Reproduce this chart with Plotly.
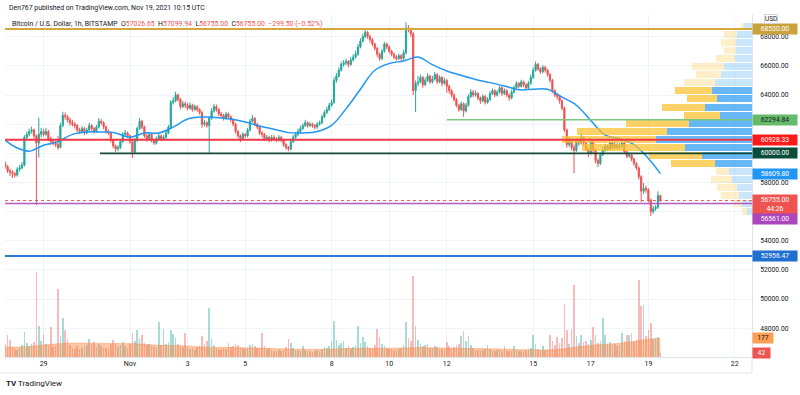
import pandas as pd
import plotly.graph_objects as go

# ---------------- price data: 2h bars, 2021-10-27 16:00 UTC -> 2021-11-19 10:00 UTC
first_open = 59300
close = [
    59100, 58800, 58700, 58600,
    58500, 58900, 59000, 59200, 61100, 61300, 61500, 61600, 61200, 60700, 61300, 61500,
    61300, 61500, 61000, 60800, 60700, 60600, 60400, 61900, 62600, 62500, 62300, 62100,
    62000, 61900, 61600, 61500, 61700, 61400, 61600, 61900, 61700, 61500, 61800, 62200,
    62100, 61800, 61500, 61400, 60900, 60500, 60300, 60400, 60800, 61300, 61400, 61200,
    60800, 60100, 60900, 61700, 62200, 61800, 61200, 61000, 61300, 60900, 60700, 61000,
    61200, 61000, 61100, 61400, 61800, 63500, 63600, 64000, 63700, 63200, 63400, 63300,
    63100, 63300, 63000, 63200, 63000, 62800, 62000, 62100, 61900, 62400, 62900, 63200,
    63000, 62700, 62600, 62400, 62700, 62500, 62300, 62000, 61500, 61200, 61000, 61300,
    61200, 61600, 62200, 62400, 62000, 61800, 61400, 61300, 61000, 61100, 60900, 61100,
    61000, 60900, 61100, 60900, 60600, 60400, 60300, 60800, 61100, 61300, 61500, 61700,
    61900, 62100, 61900, 62000, 61900, 61800, 62000, 62100, 62500, 62800, 63000, 63300,
    63500, 65000, 65300, 65700, 66100, 66200, 66300, 66100, 66400, 66600, 66800, 67300,
    67700, 68000, 68300, 68000, 67800, 67500, 67200, 66800, 66500, 67000, 67500, 67300,
    67000, 66800, 66600, 66500, 66700, 66500, 66900, 68600, 68500, 68200, 64300, 64800,
    64900, 65200, 64700, 65000, 65300, 64900, 65100, 65400, 64900, 65200, 64800, 65000,
    64600, 64300, 64000, 63700, 63300, 63000, 63400, 62900, 63300, 63900, 64200, 64000,
    64100, 63800, 63600, 63900, 63500, 63700, 64100, 64300, 64000, 64200, 64500, 64100,
    64300, 64000, 63800, 64200, 64500, 64800, 64600, 64900, 64700, 64500, 64800, 65200,
    65700, 66100, 65800, 65600, 65900, 65700, 65400, 65000, 64300, 64000, 63900, 63600,
    63100, 61600, 60600, 60900, 60400, 60200, 60900, 60700, 61100, 60700, 60300, 60000,
    60800, 60200, 59500, 59300, 59900, 60200, 60500, 60300, 60700, 60400, 60600, 60400,
    60500, 60700, 60100, 59800, 59900, 59600, 59300, 59000, 58400, 57400, 57600, 57500,
    56800, 56000, 56200, 56300, 57100, 56755,
]
high = [
    59450, 59200, 58950, 58850,
    58750, 59050, 59200, 59400, 61250, 61500, 61700, 61830, 61700, 61300, 62450, 61750,
    61700, 61750, 61600, 61150, 60950, 60850, 61200, 62100, 62850, 62800, 62650, 62450,
    62300, 62150, 62000, 61750, 61850, 61800, 61750, 62100, 62000, 61800, 61950, 62420,
    62350, 62200, 61900, 61650, 61450, 61000, 60600, 60550, 60950, 61450, 61600, 61500,
    61300, 60900, 61050, 61850, 62420, 62300, 61900, 61350, 61450, 61400, 61000, 61150,
    61400, 61300, 61250, 61550, 61950, 63650, 63850, 64230, 64100, 63800, 63600, 63550,
    63450, 63500, 63400, 63350, 63300, 63100, 62900, 62300, 62200, 62550, 63100, 63400,
    63350, 63100, 62850, 62700, 62850, 62800, 62600, 62400, 62100, 61600, 61300, 61450,
    61400, 61750, 62350, 62630, 62500, 62100, 61900, 61550, 61400, 61250, 61200, 61250,
    61250, 61100, 61250, 61200, 61000, 60700, 60500, 60950, 61250, 61450, 61700, 61900,
    62050, 62300, 62200, 62150, 62100, 62000, 62150, 62250, 62650, 62950, 63200, 63450,
    63700, 65200, 65500, 65900, 66300, 66400, 66500, 66400, 66600, 66800, 67050, 67500,
    67900, 68200, 68500, 68400, 68150, 67900, 67600, 67300, 66900, 67150, 67650, 67600,
    67400, 67100, 66900, 66750, 66850, 66800, 67100, 68990, 68800, 68600, 68300, 65000,
    65300, 65400, 65300, 65200, 65500, 65400, 65300, 65580, 65500, 65350, 65300, 65200,
    65100, 64700, 64400, 64100, 63800, 63400, 63550, 63500, 63450, 64050, 64400, 64350,
    64300, 64200, 63900, 64050, 64000, 63850, 64250, 64450, 64400, 64350, 64650, 64600,
    64450, 64400, 64100, 64350, 64650, 64950, 64900, 65050, 65000, 64800, 64950, 65400,
    65900, 66300, 66200, 65900, 66050, 66000, 65800, 65500, 65100, 64400, 64150, 64000,
    63700, 63200, 61700, 61100, 61000, 60600, 61050, 61000, 61400, 61200, 60800, 60400,
    61050, 60900, 60300, 59650, 60050, 60430, 60650, 60600, 60900, 60800, 60800, 60700,
    60700, 60900, 60800, 60200, 60050, 60000, 59700, 59400, 59100, 58500, 57960, 57800,
    57600, 56900, 56400, 56450, 57400, 57150,
]
low = [
    58950, 58650, 58450, 58300,
    58350, 58400, 58750, 58900, 59100, 60950, 61150, 61350, 61000, 56450, 59700, 61100,
    61150, 61200, 60850, 60600, 60550, 60450, 60250, 60350, 61800, 62300, 62100, 61900,
    61850, 61700, 61450, 61350, 61400, 61250, 61300, 61500, 61550, 61350, 61400, 61700,
    61950, 61650, 61350, 61250, 60750, 60350, 60100, 60150, 60300, 60700, 61200, 61050,
    60650, 59680, 60000, 60800, 61600, 61650, 61050, 60800, 60900, 60750, 60570, 60600,
    60900, 60850, 60900, 61000, 61300, 61700, 63350, 63500, 63550, 63000, 63100, 63100,
    62950, 63000, 62850, 62900, 62850, 62650, 61750, 61850, 61750, 60050, 62300, 62800,
    62850, 62550, 62450, 62250, 62300, 62350, 62150, 61850, 61350, 61050, 60770, 60900,
    61050, 61100, 61500, 62100, 61850, 61650, 61250, 61100, 60850, 60900, 60750, 60800,
    60850, 60750, 60800, 60750, 60450, 60250, 60150, 60200, 60700, 61000, 61200, 61400,
    61600, 61800, 61750, 61800, 61750, 61650, 61700, 61900, 62000, 62400, 62700, 62900,
    63200, 63400, 64850, 65200, 65600, 65950, 66050, 65900, 66000, 66300, 66500, 66700,
    67200, 67600, 67900, 67850, 67600, 67350, 67050, 66600, 66350, 66400, 66900, 67150,
    66850, 66650, 66450, 66350, 66400, 66350, 66400, 66800, 68300, 68000, 64000, 62830,
    64600, 64800, 64500, 64600, 64900, 64750, 64800, 65000, 64750, 64800, 64600, 64700,
    64150, 64100, 63850, 63550, 63150, 62850, 62900, 62500, 62800, 63200, 63800, 63850,
    63900, 63650, 63400, 63500, 63350, 63400, 63600, 64000, 63850, 63900, 64100, 63950,
    64000, 63850, 63600, 63700, 64100, 64400, 64450, 64500, 64550, 64350, 64400, 64700,
    65100, 65600, 65650, 65450, 65500, 65550, 65250, 64850, 64150, 63850, 63700, 63400,
    62950, 61450, 60400, 60450, 60200, 58640, 60100, 60500, 60600, 60500, 60150, 59750,
    59900, 60000, 59300, 59060, 59200, 59800, 60100, 60150, 60200, 60250, 60300, 60250,
    60300, 60400, 59950, 59650, 59700, 59450, 59150, 58850, 58200, 56660, 57200, 57300,
    56650, 55700, 55850, 56050, 56200, 56700,
]
volume = [
    120, 210, 160, 95,
    80, 70, 90, 110, 240, 130, 105, 120, 140, 810, 290, 150,
    220, 120, 110, 285, 95, 100, 650, 200, 370, 260, 170, 110,
    90, 80, 100, 75, 85, 95, 110, 170, 120, 140, 95, 120,
    100, 85, 90, 80, 120, 160, 130, 95, 110, 140, 100, 90,
    120, 230, 150, 260, 180, 210, 130, 110, 120, 100, 95, 90,
    333, 110, 270, 120, 140, 260, 220, 180, 120, 110, 95, 230,
    90, 80, 85, 70, 95, 100, 200, 120, 150, 467, 180, 110,
    85, 70, 75, 90, 80, 130, 95, 100, 120, 110, 95, 85,
    75, 90, 110, 120, 100, 85, 90, 230, 100, 80, 85, 70,
    60, 55, 65, 60, 80, 95, 170, 130, 85, 70, 65, 60,
    100, 70, 55, 60, 50, 55, 65, 60, 80, 95, 90, 100,
    150, 340, 160, 110, 130, 150, 90, 100, 80, 95, 110, 290,
    130, 190, 140, 100, 90, 85, 110, 270, 190, 120, 100, 85,
    80, 75, 70, 65, 80, 90, 110, 333, 180, 150, 770, 290,
    160, 120, 100, 110, 120, 90, 85, 100, 95, 80, 75, 70,
    140, 100, 90, 95, 110, 120, 200, 250, 150, 200, 110, 90,
    70, 65, 60, 70, 75, 110, 80, 70, 60, 65, 75, 60,
    100, 60, 55, 60, 100, 70, 60, 55, 60, 65, 75, 90,
    210, 120, 80, 70, 100, 65, 75, 210, 150, 110, 190, 130,
    180, 505, 260, 120, 270, 686, 200, 130, 210, 140, 150, 120,
    160, 285, 210, 130, 150, 370, 210, 120, 140, 110, 120, 100,
    110, 230, 150, 210, 210, 230, 140, 160, 733, 480, 490, 200,
    260, 320, 170, 180, 190, 42,
]

# ---------------- moving averages (read every 12h)
ma_times = (["2021-10-27 16:00"]
            + [str(t) for t in pd.date_range("2021-10-28", "2021-11-19", freq="12h")]
            + ["2021-11-19 10:00"])
price_ma = [60900, 60450, 60150, 60550, 60800, 61300, 61460, 61460, 61400, 61110,
            61400, 61400, 61800, 62350, 62490, 62460, 62350, 62150, 61870, 61650,
            61420, 61400, 61500, 61920, 63050, 64400, 65700, 66160, 66340, 66600,
            66080, 65650, 65350, 65070, 64850, 64620, 64360, 64400, 64400, 63850,
            63300, 62250, 61250, 61000, 60600, 59650, 58610]
volume_ma = [95, 95, 100, 115, 125, 133, 133, 130, 128, 128, 120, 112, 110, 105, 95,
             92, 90, 88, 85, 80, 76, 74, 74, 76, 80, 82, 82, 84, 86, 90, 88, 85, 82,
             80, 78, 76, 72, 68, 66, 75, 95, 110, 122, 130, 150, 168, 177]

# ---------------- visible-range volume profile (24 rows, bottom -> top)
profile_low, profile_high = 55700, 68990
profile_up = [5, 10, 13, 15, 20, 23, 37, 50, 67, 96, 85, 63, 32, 47, 35, 40, 37, 31, 28, 17, 16, 16, 15, 8]
profile_down = [5, 8, 18, 20, 21, 13, 44, 53, 103, 94, 90, 63, 36, 43, 30, 37, 31, 25, 32, 19, 12, 15, 13, 3]

# ---------------- drawn levels
level_values = [68530.00, 62294.84, 60928.33, 60000.00, 52956.47, 56561.00, 56755.00]
level_starts = ["2021-10-27 15:50", "2021-11-12 00:00", "2021-10-27 15:50", "2021-10-30 23:00",
                "2021-10-27 15:50", "2021-10-27 15:50", "2021-10-27 15:50"]
level_colors = ["#d4a83a", "#7cc47f", "#f23645", "#124a37", "#2a7ad6", "#b05cc0", "#ef5350"]
level_widths = [2, 1.5, 2, 1.8, 2, 1.5, 1]
level_dash = ["solid", "solid", "solid", "solid", "solid", "solid", "dot"]

x_start, x_end = "2021-10-27 15:50", "2021-11-22 14:20"
date_ticks = ["2021-10-29", "2021-11-01", "2021-11-03", "2021-11-05", "2021-11-08", "2021-11-10",
              "2021-11-12", "2021-11-15", "2021-11-17", "2021-11-19", "2021-11-22"]
date_labels = ["29", "Nov", "3", "5", "8", "10", "12", "15", "17", "19", "22"]
price_ticks = list(range(48000, 68001, 2000))
price_labels = ["" if v in (56000, 60000, 62000) else f"{v:.2f}" for v in price_ticks]

# ---------------- build
times = pd.date_range("2021-10-27 16:00", periods=len(close), freq="2h")
opens = [first_open] + close[:-1]
up_col = "rgba(38,166,154,0.40)"
dn_col = "rgba(239,83,80,0.40)"
vol_colors = [up_col if c >= o else dn_col for o, c in zip(opens, close)]

n_rows = len(profile_up)
step = (profile_high - profile_low) / n_rows
row_centers = [profile_low + step * (i + 0.5) for i in range(n_rows)]
totals = [u + d for u, d in zip(profile_up, profile_down)]
poc = totals.index(max(totals))
va = {poc}
lo_i, hi_i = poc, poc
acc = totals[poc]
while acc < 0.7 * sum(totals):
    above = totals[hi_i + 1] if hi_i + 1 < n_rows else -1
    below = totals[lo_i - 1] if lo_i - 1 >= 0 else -1
    if above >= below:
        hi_i += 1
        va.add(hi_i)
        acc += above
    else:
        lo_i -= 1
        va.add(lo_i)
        acc += below
up_colors = ["rgba(33,150,243,0.68)" if i in va else "rgba(33,150,243,0.24)" for i in range(n_rows)]
dn_colors = ["rgba(251,192,45,0.72)" if i in va else "rgba(251,192,45,0.26)" for i in range(n_rows)]

fig = go.Figure()
fig.add_trace(go.Bar(x=times, y=volume, xaxis="x", yaxis="y2", width=4.6e6,
                     marker=dict(color=vol_colors, line_width=0), hoverinfo="skip"))
fig.add_trace(go.Scatter(x=ma_times, y=volume_ma, xaxis="x", yaxis="y2", mode="lines",
                         fill="tozeroy", fillcolor="rgba(250,130,60,0.45)",
                         line=dict(color="rgba(250,130,60,0.55)", width=0.6, shape="spline")))
fig.add_trace(go.Candlestick(x=times, open=opens, high=high, low=low, close=close,
                             increasing=dict(line=dict(color="#26a69a", width=1), fillcolor="#26a69a"),
                             decreasing=dict(line=dict(color="#ef5350", width=1), fillcolor="#ef5350"),
                             whiskerwidth=0, hoverinfo="skip"))
fig.add_trace(go.Scatter(x=ma_times, y=price_ma, mode="lines",
                         line=dict(color="#2196f3", width=1.5, shape="spline")))
fig.add_trace(go.Bar(x=profile_up, y=row_centers, orientation="h", xaxis="x2", yaxis="y",
                     width=step * 0.87, marker=dict(color=up_colors, line_width=0)))
fig.add_trace(go.Bar(x=profile_down, y=row_centers, orientation="h", xaxis="x2", yaxis="y",
                     width=step * 0.87, marker=dict(color=dn_colors, line_width=0)))

for val, start, col, w, dash in zip(level_values, level_starts, level_colors, level_widths, level_dash):
    fig.add_shape(type="line", xref="x", yref="y", x0=start, x1=x_end, y0=val, y1=val,
                  line=dict(color=col, width=w, dash=dash))

# decoration lines of the TradingView frame
fig.add_shape(type="line", xref="paper", yref="paper", x0=1, x1=1, y0=0, y1=-0.047,
              line=dict(color="#e0e3eb", width=1))
fig.add_shape(type="line", xref="paper", yref="paper", x0=-0.007, x1=1, y0=-0.047, y1=-0.047,
              line=dict(color="#e0e3eb", width=1))

# right-side badges
badges = [
    (68530.00, "68530.00", "#c9a23e", "white", 0, "y"),
    (62294.84, "62294.84", "#66bb6a", "#131722", 0, "y"),
    (60928.33, "60928.33", "#ff1a1a", "white", 0, "y"),
    (60000.00, "60000.00", "#0b4d3a", "white", 0, "y"),
    (58609.80, "58609.80", "#2196f3", "white", 0, "y"),
    (56755.00, "56755.00<br>44:26", "#ef5350", "white", -4, "y"),
    (56561.00, "56561.00", "#ab47bc", "white", -16, "y"),
    (52956.47, "52956.47", "#1e6fd0", "white", 0, "y"),
]
for val, txt, bg, fg, ys, yr in badges:
    fig.add_annotation(xref="paper", x=1, xanchor="left", yref=yr, y=val, yanchor="middle",
                       yshift=ys, text=txt, showarrow=False, bgcolor=bg, borderpad=1,
                       width=42, align="center", font=dict(size=6.8, color=fg))
fig.add_annotation(xref="paper", x=1, xanchor="left", yref="y2", y=volume_ma[-1], yanchor="middle",
                   text="177", showarrow=False, bgcolor="#ff9f55", borderpad=1, width=18,
                   font=dict(size=6.8, color="#131722"))
fig.add_annotation(xref="paper", x=1, xanchor="left", yref="y2", y=volume[-1], yanchor="middle",
                   text="42", showarrow=False, bgcolor="#ef5350", borderpad=1, width=15,
                   font=dict(size=6.8, color="white"))
fig.add_annotation(xref="paper", x=1, xanchor="left", xshift=12, yref="paper", y=0.987, yanchor="middle",
                   text="USD", showarrow=False, bgcolor="white", bordercolor="#d1d4dc", borderwidth=1,
                   borderpad=0, font=dict(size=6.5, color="#131722"))

# header texts
red = "#ef5350"
nb = "\u00a0"
legend_txt = (f"Bitcoin / U.S. Dollar, 1h, BITSTAMP{nb}{nb}O<span style='color:{red}'>57026.65</span>{nb}{nb}"
              f"H<span style='color:{red}'>57099.94</span>{nb}{nb}L<span style='color:{red}'>56755.00</span>{nb}{nb}"
              f"C<span style='color:{red}'>56755.00</span>{nb}{nb}<span style='color:{red}'>−299.50 (−0.52%)</span>")
fig.add_annotation(xref="paper", yref="paper", x=0.003, y=1.021, xanchor="left", yanchor="middle",
                   text="Den767 published on TradingView.com, Nov 19, 2021 10:15 UTC", showarrow=False,
                   font=dict(size=6.9, color="#131722"))
fig.add_annotation(xref="paper", yref="paper", x=0.007, y=0.974, xanchor="left", yanchor="middle",
                   text=legend_txt, showarrow=False, font=dict(size=6.9, color="#131722"))
fig.add_annotation(xref="paper", yref="paper", x=-0.002, y=-0.077, xanchor="left", yanchor="middle",
                   text="<b>TV</b> TradingView", showarrow=False, font=dict(size=8, color="#131722"))

fig.update_layout(
    width=800, height=395, margin=dict(l=5, r=48, t=15, b=38),
    paper_bgcolor="white", plot_bgcolor="white", showlegend=False, barmode="stack",
    font=dict(family="Roboto", size=7, color="#131722"),
    xaxis=dict(type="date", range=[x_start, x_end], tickvals=date_ticks, ticktext=date_labels,
               showgrid=True, gridcolor="#f0f3fa", showline=True, linecolor="#e0e3eb", ticks="",
               zeroline=False, rangeslider=dict(visible=False), tickfont=dict(size=7, color="#131722")),
    yaxis=dict(side="right", range=[46027, 69489], tickvals=price_ticks, ticktext=price_labels,
               showgrid=True, gridcolor="#f0f3fa", showline=True, linecolor="#e0e3eb", ticks="",
               zeroline=False, ticklabelstandoff=6, tickfont=dict(size=6.7, color="#131722")),
    yaxis2=dict(overlaying="y", range=[0, 3250], visible=False),
    xaxis2=dict(overlaying="x", anchor="y", range=[747, 0], visible=False),
)

fig.write_html("out.html", config={"displayModeBar": False},
               post_script="document.body.style.margin='0';document.body.style.overflow='hidden';")
